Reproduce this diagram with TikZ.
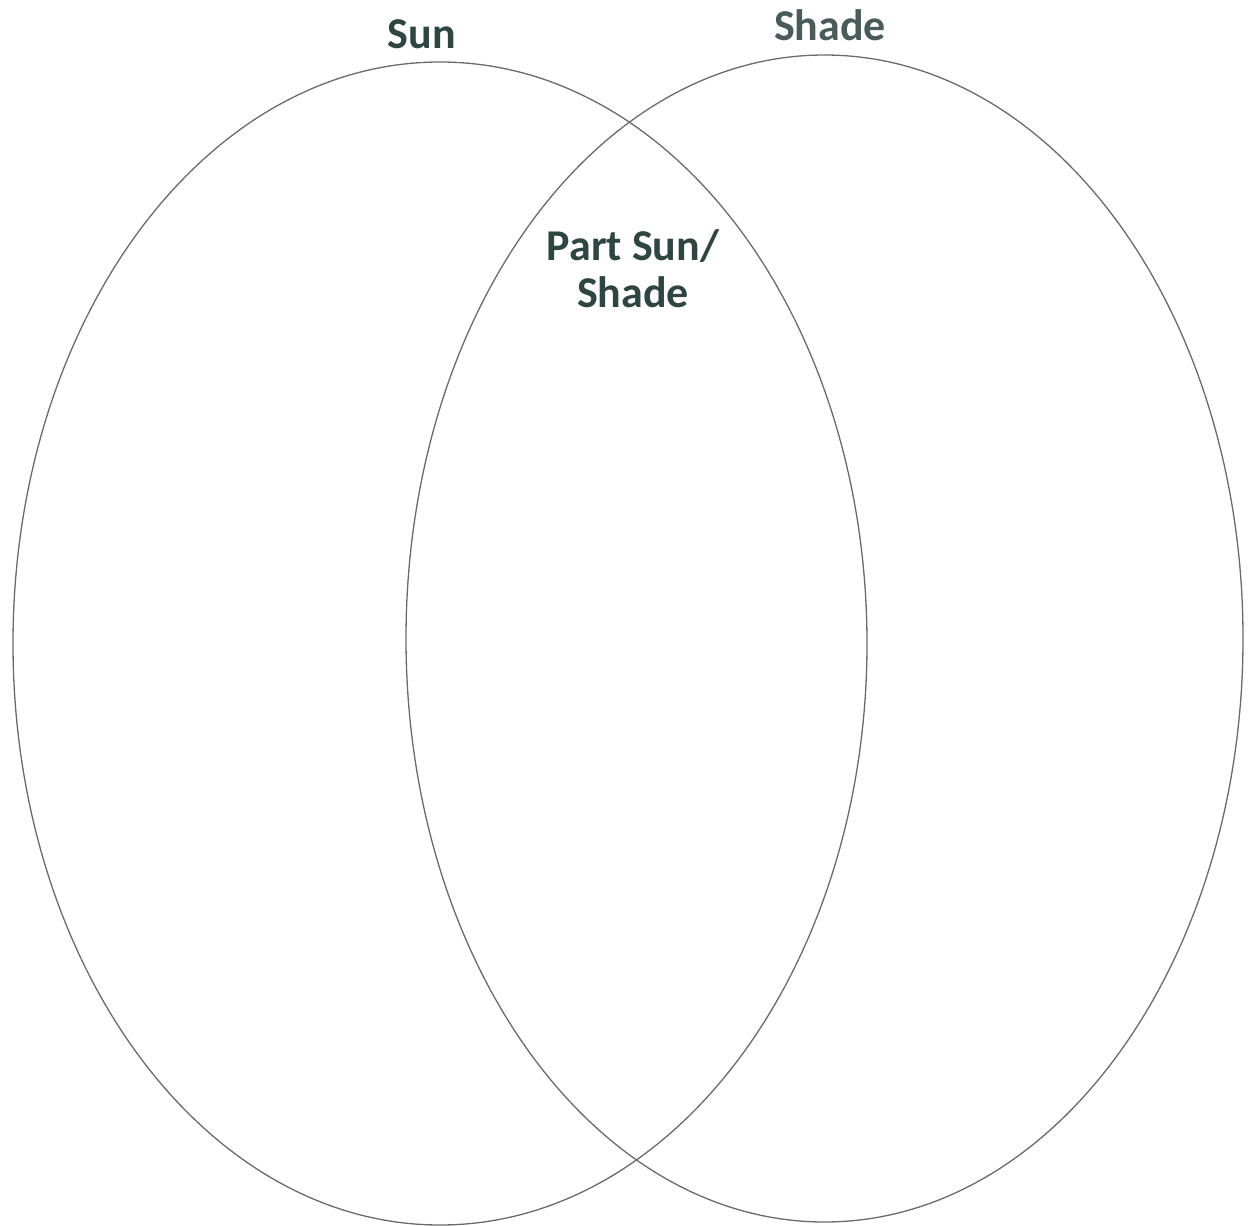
\documentclass[tikz,border=0pt]{standalone}
\usepackage{fontspec}
\setmainfont{Carlito}
\definecolor{labelgreen}{HTML}{2E4540}
\definecolor{labelgray}{HTML}{4A5C58}
\definecolor{ringgray}{HTML}{6A6A6A}
\begin{document}
\begin{tikzpicture}[x=1pt,y=-1pt,
  ring/.style={draw=ringgray,line width=1.3pt},
  lbl/.style={font=\fontsize{44}{47}\selectfont\bfseries,text=labelgreen,inner sep=0pt,align=center}]
\useasboundingbox (0,0) rectangle (1253,1226);
\draw[ring] (440,643.5) ellipse [x radius=427, y radius=581.5];
\draw[ring] (824.5,638.5) ellipse [x radius=418.5, y radius=583.5];
\node[lbl,anchor=base] (sun) at (422,48) {Sun};
\node[lbl,anchor=base,text=labelgray] (shade) at (830,40) {Shade};
\node[lbl,anchor=base] (part1) at (633,260) {Part Sun/};
\node[lbl,anchor=base] (part2) at (633,307) {Shade};
\end{tikzpicture}
\end{document}
